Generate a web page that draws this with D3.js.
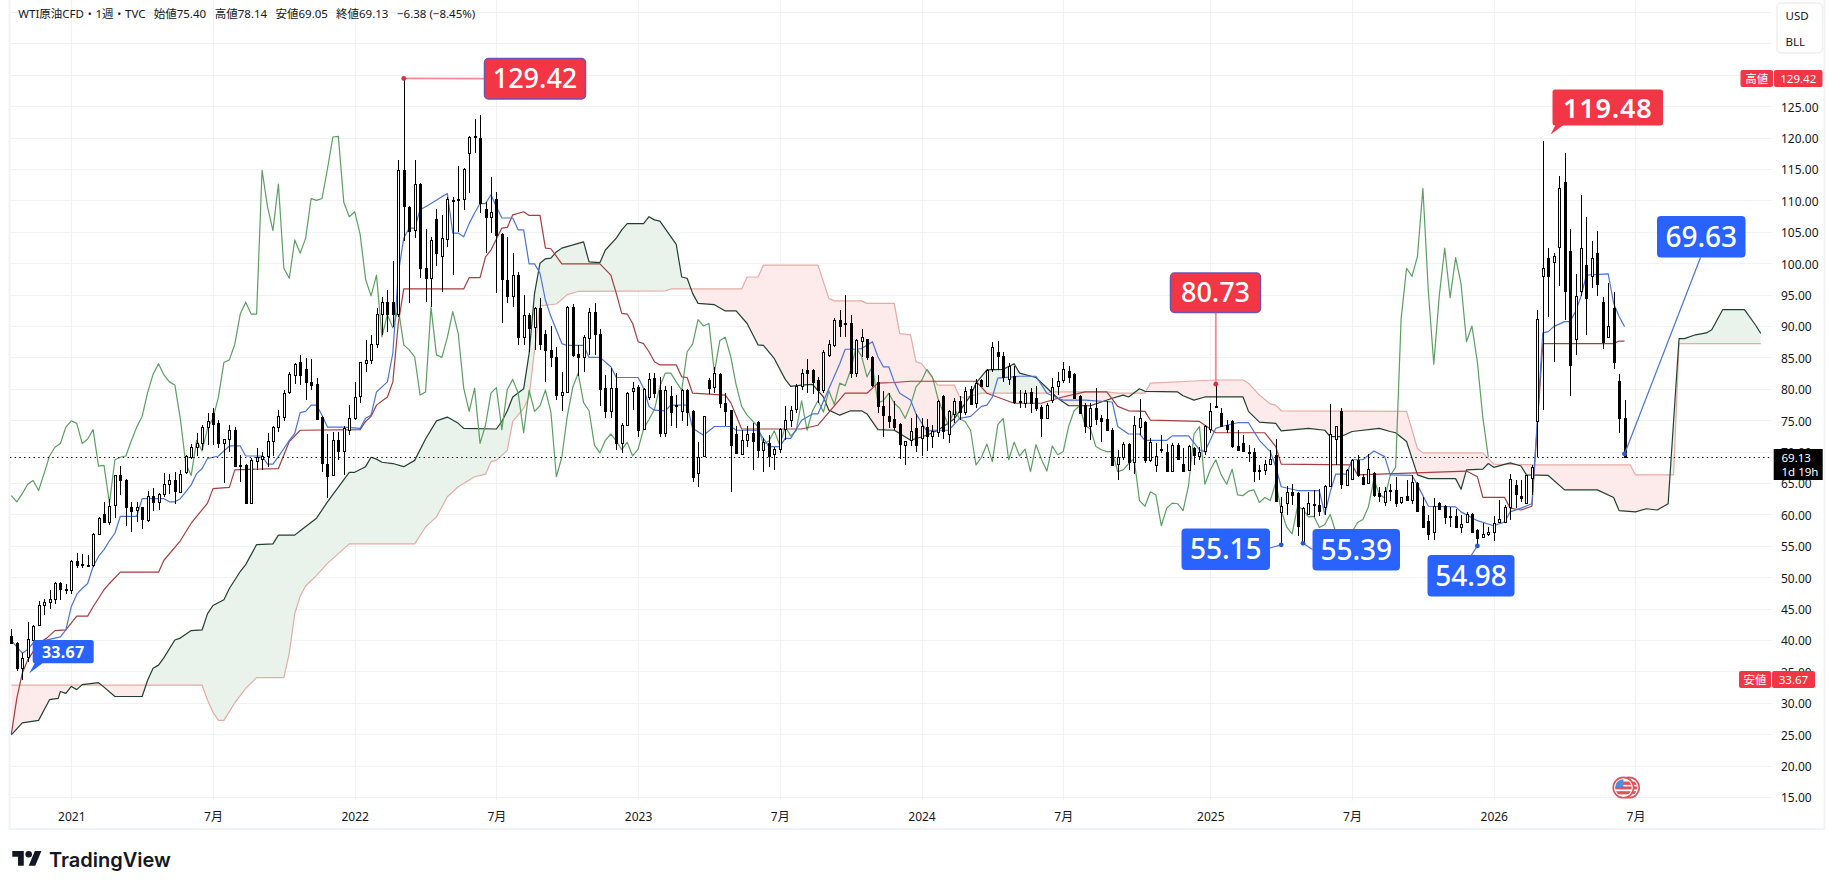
<!DOCTYPE html>
<html>
<head>
<meta charset="utf-8">
<title>WTI原油CFD</title>
<script src="https://cdn.jsdelivr.net/npm/d3@7/dist/d3.min.js"></script>
<style>
  html, body { margin: 0; padding: 0; background: #fff; }
  svg { display: block; }
  text { font-family: "Noto Sans", "Noto Sans CJK JP", sans-serif; }
</style>
</head>
<body>
<svg id="chart" width="1828" height="889"></svg>
<script>
// Weekly candles, oldest first. Index 0 is the first week in view.
const opens = [40.7,39.6,35.6,37.2,40.1,42.3,45.5,46,46.5,49.1,48.2,48,52.6,52.1,52,52,56.9,60,58.8,61.4,
66.2,65.5,61.2,60.6,61.1,59.2,63,62,63.2,64.7,65.5,63.7,66.8,69.1,70.6,71.3,73.9,76.2,74.5,71.3,
72,73.5,67.9,67.9,61.8,68.5,68.8,69.3,71.7,73.9,75.6,79.4,82.3,84.2,83.2,81.1,80.8,75.5,68.1,66.2,
71.8,70,73.4,75.3,78.8,84.1,84.6,87.1,91.9,93.8,93.8,91.9,114.8,109,105.2,112.6,99.2,97.6,107,101.2,
103.9,110.1,110.2,110.3,117.5,120.1,120,108.6,107.4,110.3,104.6,97.4,94.8,98.2,88.3,91.8,89.7,92.8,88.8,86.2,
85.1,79.1,79.5,93,85.5,85,88.2,92.3,88.8,80.1,76.5,80.1,71.3,74.2,79.8,80.3,73.5,78.6,81.7,79.8,
73,78.9,77.5,76.4,79.8,76.5,66.5,69.2,81.4,80.3,82.4,77.8,76.6,72.8,69.6,71.8,73,74.7,70.3,71.3,
69.6,70.4,73.6,75.1,76.7,80.4,83,83,81.4,79.8,85.4,87,91,90.5,90.5,82.5,87.6,87.9,85,81.1,
77.2,75.7,75.2,74.4,71,71.9,73.7,72.1,73.9,72.5,73.2,78.9,72.8,76.1,78.1,76.4,79.9,77.7,81.4,80.5,
83.1,85.8,85.2,81.5,82,78,77.7,79.5,78.5,77.1,75.3,78.2,80.5,81.3,82.8,82.4,78.9,77.4,74.1,76.9,
75.3,75.2,73.5,68,69.2,71.2,68.4,73.9,74.7,68.7,67.8,70.4,69.9,66.9,71.1,68,67,70.6,69.3,70,
73.7,77.2,76.2,74.3,74.8,70.9,71.3,70,69.9,67.1,67.1,68.1,69.5,60.3,61.9,63.6,63.4,55.4,60.1,61.7,
61.5,61.3,64.5,72,76.5,64.7,65.6,68.7,65.9,65,66.6,63.4,62,63.9,63.9,61.9,62.9,62.2,65,61.3,
58.9,57.2,61.8,61.3,59.8,59.7,57.9,58.8,60.1,57.5,56.5,56.9,57.3,58.7,58.8,61.2,64.7,62.9,61.8,65.7,
74.8,97.9,100.8,100.2,102.5,112.9,102,88,95.5,99.7,98,101.6,93.8,88.3,92.8,81.3,75.4];

const highs = [41.8,39.7,37.9,42.9,42.4,46.2,46.6,47.9,49.3,49.2,48.9,52.7,53.8,53.7,53.5,57.1,59.6,62,62.5,66.2,
67.7,65.6,62,62,61.2,63.7,64.2,63.4,66.6,66.5,66.8,67,69.5,71.2,72.9,74.3,76.1,76.9,75.1,72,
74.2,73.9,69.5,68,69,70.5,70,73,74,76.6,79.8,82.6,84.1,85.4,84.9,84.8,81.7,75.6,72.8,73.2,
73.1,74,77.4,81.1,84.3,87.8,88.6,92.9,94.6,95.7,100.4,116.4,129.42,109.1,116.4,112.7,105.4,104.2,108.7,107.7,
110.6,110.5,115.4,115.1,120.2,122.9,123.6,109.8,113.8,111.4,104.8,104.2,101.7,98.6,94.9,92,93.1,94.4,89.3,90,
86.7,82.7,93.2,93.5,87,88.6,92.8,93.6,89.6,82.2,83.3,82.5,74.5,79.5,81.1,80.6,80.1,82.5,82.5,81.9,
80.4,80.4,79,80,80,76.7,71.6,75.7,81.7,83.4,82.5,79.3,76.6,74,73.4,74,74.6,74.8,72.1,72.6,
70.8,73.7,77.2,77.3,80.7,83.1,84.7,83.1,81.9,86.2,87.8,91.2,92.5,94.9,91.7,88,89.6,88,85.2,82.2,
79.7,79.3,78,74.5,71.7,75.3,76,75.3,75.2,74.2,78.2,79,76.7,78.6,78.8,80.3,80.5,81.5,81.5,83.1,
87.4,87.6,85.9,84.1,83.7,79.8,79.8,80.1,80.5,77.4,77.7,81.7,82.7,84.3,83.7,82.5,79,77.7,77.7,80.1,
75.8,78,73.7,70.3,71.6,71.4,75.6,78.3,74.8,72.1,71.3,72.7,71.2,71.4,71.3,70.5,71,70.8,70.8,74.2,
77.7,80.73,76.9,75,75,73.5,72.6,71,70.5,67.9,68.7,70.3,72,62.8,64.5,64.8,63.5,61.1,63.6,63.9,
64,64.7,77.6,74,76.9,67.3,68.8,69.5,66.5,69.6,66.8,64.4,64.4,64.9,66,62.8,65.5,66.3,65.2,62.8,
59.9,62.6,62,61.5,61.2,60.8,59.9,60.4,60.2,57.6,58.7,58,59.7,62.3,61.5,66.4,65.5,65.4,66.3,67.9,
92.5,119.48,102.4,101.7,113.9,117.5,105.5,98.3,110.9,107.3,103.5,105.1,94.6,96.8,95.4,82.4,78.14];

const lows = [39.6,35,33.67,36.5,39.5,42.3,44,44.9,45.8,46.3,47.4,47.3,51.5,51.5,51.8,51.7,56.7,58.7,58.3,59.4,
63.1,58.2,57.2,58.8,57.7,58.8,60.6,60.7,62.8,63.3,61.6,63.6,66.5,68.9,69.3,70.3,71,71,70.5,65,
70,67.6,65.2,61.8,61.8,67,67.1,67.6,69.3,73.2,74.9,79.2,80.7,80.6,78.2,79.8,75,66.8,62.6,66.2,
68.6,66.3,72.6,75,77.8,82.7,84,86.5,88.6,89.1,89.9,91.5,103.5,93.6,104,97.6,93.9,93.1,99.5,95.4,
102.6,98.1,105,108.5,111.2,117.5,108,101.6,104.8,95.2,90.5,93.6,93.1,87,87,85.8,86.2,86.2,81.1,83.5,
78.2,76.4,79.3,85.1,82,82.7,85.4,85.4,77.3,75.3,75.3,70.3,69.7,74,76.6,72.4,73.4,78.2,78.5,72.4,
72.4,74,73.7,74.8,74,65.2,64.4,69.1,79.2,79.3,76.9,74,63.6,69.7,69.5,70.8,67,69.2,66.8,67.6,
67,69.7,71.9,73.9,76.1,79.8,79.3,79.2,77.7,79.3,85.1,86.7,88.2,88.2,81.7,81.9,85.1,84.6,80.3,76.1,
72.3,73.7,73.5,68.9,67.8,70.9,70,69.3,70.1,70.6,72.4,72,71.4,74.5,75,75.8,77.4,76.9,80.4,80.3,
82.6,83,81.1,80.6,77.6,76.9,76.9,76.1,76.4,72.4,75.2,77.7,79,81,80.9,78.4,76.1,72.9,71.8,74.2,
71.5,73.3,67.9,65.4,68.7,67,66.4,72.6,68.2,68.4,66.8,69.8,66.7,66.7,68.7,66.8,66.9,67.9,68.6,69.5,
72.9,77,73.9,73,70.5,70.1,70,68.4,65.2,65.5,66.3,67.9,62,55.15,59.9,61.5,56.5,55.39,59.9,59.6,
59.7,59.9,64.3,67.9,64.1,64.5,65.5,66,64.7,65,62.8,61.9,61.3,62.2,61.1,61.7,62.2,61.6,60.4,57.9,
56,55.9,60.7,58.5,58,57.8,57.1,58.7,57.1,54.98,56.3,56.5,55.8,58.6,58.6,59.1,61,61.9,61.6,63.1,
69.2,76.6,91.5,84.3,96.4,91,78.9,85.4,94.7,88.6,96,94.7,86.3,88.3,83.2,72.9,69.05];

const closes = [39.6,35.6,37.2,40.1,42.3,45.5,46,46.5,49.1,48.2,48.2,52.6,52,52.1,52,56.9,59.5,58.8,61.4,66.2,
65.4,61.2,60.6,61.1,59.2,63,62,63.3,64.8,65.4,63.8,66.5,69.3,70.7,71.3,73.9,74.9,74.5,71.3,72,
73.5,67.7,67.8,61.8,68.7,69.1,69.3,71.7,73.9,75.6,79.4,82.3,84,82.2,81.1,80.6,75.3,68.1,66.2,71.8,
70.1,73.7,75.3,78.7,84.2,84.6,87.1,91.9,93.8,91.9,91.9,114.8,109,105.2,112.6,99.2,97.6,103.7,101.6,104,
110.3,110,110.3,115,120.1,120.2,109.7,107.4,108.2,104.6,97.4,94.8,98.1,88.3,91.8,89.7,92.8,87,86.2,85.1,
79,79.5,93,85.4,85,88.2,92.3,88.8,80.1,76.4,80.1,71.3,74.2,79.3,80.2,73.5,79.9,81.5,79.3,73,
79.8,76.4,77.3,79.8,76.3,66,69.1,75.6,80.2,82.5,77.8,76.5,71,69.8,71.8,72.8,71.7,70.3,71.5,69.3,
70.4,73.6,75.1,76.7,80.4,82.5,82.5,81.1,79.8,85.9,87.1,91,90,90.4,82.6,87.7,88.2,85.1,80.6,77.2,
75.8,74.9,74,71.2,71.7,73.3,71,74,72.5,73.3,78.1,73.4,76.5,78.1,76.3,79.7,77.5,80.9,80.5,83,
86.6,85.2,81.9,83.6,77.8,78.1,79.3,77.7,76.9,75.3,77.4,80.3,81.3,83.1,81.9,78.5,76.2,74,76.9,75.2,
74.8,73.4,67.9,69.1,71.2,68.4,74.3,75.3,68.7,71.5,69.3,70.4,66.8,71.1,68.8,66.9,70.9,69.5,70,74,
76.5,77.3,74.2,73.6,70.8,70.3,70,70,66.8,67.1,68.1,68.9,62.2,61.3,63.6,63.1,58.2,61,61.8,61.7,
60.6,64.6,72.8,74,64.8,67.1,68.7,66.3,64.8,67.2,63.1,63,63.7,63.9,61.9,62.7,62.2,65.1,60.6,58,
56.9,61.3,60.8,59.6,59.7,57.9,58.4,60,57.2,56.3,56.9,57.2,58.7,59.2,61.2,65.6,63.2,62.6,66.2,67.5,
91.1,99.2,97.9,101.1,111.9,95.5,83.9,94.8,102.4,94.5,100.9,96.7,87.5,90,84.2,75.4,69.13];

// Ichimoku conversion line, as week and price at each vertex.
const tenkanWeeks = [0,1,2,3,4,9,10,11,12,13,14,15,16,17,18,19,20,23,24,28,29,30,31,32,33,34,35,36,38,39,40,42,43,46,47,48,49,50,51,52,53,54,55,56,57,58,61,64,65,66,67,68,69,70,71,72,73,74,75,76,77,79,80,81,82,83,84,85,86,87,88,89,90,92,93,94,95,96,97,98,99,100,101,102,105,106,108,110,111,115,116,117,118,120,121,124,125,127,129,132,133,137,139,141,142,143,145,147,148,150,152,153,155,156,158,159,160,161,162,163,165,166,168,169,172,174,176,178,179,180,181,185,188,190,192,193,197,202,203,205,207,208,212,213,216,218,219,221,222,225,227,229,231,232,233,236,240,241,242,243,245,246,248,250,252,253,257,258,260,265,266,269,272,274,275,277,279,280,281,282,283,285,286,287,288,289,293,294,295,296];
const tenkanPrices = [39.9,38.9,37.9,38.5,39.5,40.5,41.6,45.3,47.3,48.2,49,51.7,53.3,54.4,55.8,57,59.7,59.7,62.5,62.5,62,62,62.5,63.6,64.7,66.5,67.3,68.9,69.3,70.1,70.9,70.9,69.3,69.3,68,68,69.2,70.5,71.8,72.9,76.2,76.4,77.4,77.4,75.8,73.9,73.9,73.7,75.3,75.8,79.5,80.3,81.1,85.7,98.4,104,105.6,105.6,108.5,109,109.5,110.6,111.1,104.8,104.8,104.2,106.3,108,109.5,109.5,110.9,109,107.2,107.2,105.3,105.3,99.9,99.9,98.4,94.1,91.5,89.4,87.2,86.9,86.9,85,85,83.5,81.8,81.8,80.1,77.2,76.6,76.5,77.4,77.4,73.7,72.6,74,74,73.4,73.4,70.8,70.8,72.1,72.1,75,76,76,80,84,86.3,86.3,86.4,87.5,85.1,83.5,83.5,81.1,79.3,78.2,76,73.2,73.4,73.4,75.3,75.6,77.2,77.4,78.7,81.7,82,82,79.3,78.5,78.2,78.2,77.9,74,72.8,72.8,71.8,71.8,72.5,72.5,70.3,70,73.7,74,74.6,74.6,71.8,70,67.6,64.4,63.8,63.8,60,63.6,66.4,66.4,68.7,68.7,70.1,69.2,66.3,66.2,64.7,61.3,61.2,60.4,59,58.2,58.8,60.4,61,61.7,75,88.9,89.1,89.9,90.7,90.7,92.3,94.7,98.1,98.3,93.6,91.5,89.9];

// Ichimoku base line vertices.
const kijunWeeks = [0,1,2,3,5,6.5,8,10,12,14,15,17,18,20,27,28,31,33,36,37,40,41,49,51,53,64,65,66,67,69,70,71,72,83,84,86,87,88,90,91,92,94,95,97,98,99,101,108,110,111,112,113,114,115,116,117,118,119,122,123,124,125,131,132,134,145,148,153,157,159,162,165,177,179,184,189,192,197,201,203,205,208,209,218,221,230,232,233,246,247,267,269,270,274,275,277,279,280,281,294,295,296];
const kijunPrices = [25,30.7,34.7,36.8,39.5,40.3,41.5,41.6,43.8,43.8,45.3,48,49,50.8,50.8,52.7,55.8,58.6,61.8,64.1,64.3,67.1,67.3,71.6,73.4,73.5,74.8,75.6,77.4,78.7,81.1,90.4,95.9,95.9,97.7,97.7,101,102.1,105.6,105.7,107.7,108.2,107.6,107.6,102.4,102.3,99.9,99.9,98.1,95.2,92,91.9,90.4,87.5,87.2,85.9,84.3,83.8,83.8,81.9,81.8,79.3,79,77.8,73.6,73.6,74.2,79.3,79.3,80.9,81,81.2,81.2,79.3,77.7,77.7,78.5,79.5,79.5,77.2,76.5,76.4,75,74.8,73,73,70.8,68,67.9,66.3,66.9,66,62.7,62.7,61,60.7,61.3,74.2,87.2,87.2,87.6,87.6];

// Leading span A vertices; the last ones run ahead of the final candle.
const spanAWeeks = [0,2,5,7,8.6,9,10,11,12,13,16,17,19,24,25,26,27,28,30,31,33,35,36,37,39,40,42,43,45,48,49,52,53,56,58,62,63,65,66,67,68,70,72,74,76,78,80,82,83,89,90,91,92,94,95,96,97,98,99,100,101,105,106,108,109,111,112,113,116,117,118,119,122,123,124,125,126,129,131,133,135,137,138,140,142,143,145,147,149,150,152,154,156,157,159,162,163,165,168,170,173,176,177,179,182,184,185,188,192,194,198,200,202,204,205,207,208,214,215,217,219,226,227,229,232,233,238,241,242,244,246,251,253,254,256,258,260,265,266,267,270,271,272,275,277,278,282,285,291,294,295,298,300,302,304,306,307,309,311,312,314,318,320,321];
const spanAPrices = [24.9,26.8,27.2,30.5,30.7,31.8,31.5,32.6,32.1,32.9,33.2,32.5,31,31,33.6,35.5,36,37.2,40,40.3,41.5,41.6,44.2,45.5,46.4,48.2,50.9,52,55.2,55.3,56.7,56.7,57.4,59.4,62,66.7,66.7,67.6,69.1,68.8,68.3,68.1,67.6,68.6,72,74.9,75.5,74.5,73.7,73.6,74.8,76.5,78.7,80,85.6,95.2,100,100.7,100.8,101.8,102.4,103.4,100.2,100.1,102.1,104,105.3,106.3,106.3,107.4,106.9,106.7,103,97.8,97.6,95.2,93.6,93.4,92.4,92.4,90.4,87,86.9,84.8,81.5,80.4,80.6,80.7,78.7,76.6,75.8,76.5,76.5,76,73.5,73.4,72.9,71.8,72.6,73.4,75.2,78.9,80.9,83,83.1,84,82.5,81.8,78.5,77.3,77.3,77.9,78.5,79,78.7,80,79.6,79.5,78.9,78.2,78.7,78.7,76.4,74.7,74.5,73.3,73.7,73.4,72.4,72.4,73.2,73.7,73.2,73,71.6,66.3,65.7,65.7,64,67.1,67.2,68.1,67.5,68.2,67.7,66.3,66.2,63.9,63.9,62.7,60.6,60.4,60.9,60.7,61.7,88,88,88.6,88.9,89.4,92.6,92.6,90.2,88.8];

// Leading span B vertices.
const spanBWeeks = [0,35,36,37,38,39,40,41,43,45,50,51,52,53,54,56,58,62,74,76,78,80,82,85,87,88,89,91,92,94,95,96,97,100,102,104,120,121,134,135,137,138,148,150,151,156,157,162,163,165,166,167,170,173,174,175,178,190,191,201,203,208,209,216,221,226,227,229,231,232,233,256,258,259,270,272,280,297,298,305,306,321];
const spanBPrices = [32.8,32.8,30.4,28.5,27.2,27.2,28.6,30,32.3,34,34,37.9,44.2,47,48.6,50.3,52.2,55.3,55.3,58,59.6,62.8,64.4,66,66.4,68.4,68.6,70.2,74.8,76.9,78.7,86.2,93.2,93.5,95,95.5,95.6,95.9,95.9,97.8,97.8,99.7,99.7,94.4,94,94,93.6,93.6,88.8,88.6,84.3,84,80.6,80.6,78.7,78.6,79.3,79.3,79.5,79.5,79.3,79.3,80.9,81.2,81.4,81.4,80.9,79,77.6,77.4,76.5,76.4,70.5,69.8,69.8,68,67.9,67.9,66.3,66.3,87.2,87.2];

// The lagging span is the close plotted this many weeks back.
const laggingShift = 25;

// Axis content.
const priceTicks = [125,120,115,110,105,100,95,90,85,80,75,70,65,60,55,50,45,40,35,30,25,20,15];
const gridPrices = [140,135,130].concat(priceTicks);
const timeTickWeeks = [11,37,63,89,115,141,167,193,220,246,272,298];
const timeTickLabels = ["2021","7月","2022","7月","2023","7月","2024","7月","2025","7月","2026","7月"];

const lastClose = closes[closes.length - 1];
const lastWeek = closes.length - 1;
const alternatePrice = 69.63;

const COLORS = {
  grid: "#f0f2f5", frame: "#f0f3fa", ink: "#131722",
  tenkan: "#4a74d8", kijun: "#a53d3f", spanA: "#20402f", spanB: "#e7aaa4",
  lagging: "#5c9f62", cloudUp: "#e9f3eb", cloudDown: "#fdeaea",
  red: "#f23645", blue: "#2962ff", border: "#6a55b8", leader: "#f28b94"
};

const PLOT = { left: 10, right: 1772.5, top: 0, bottom: 797, axisBottom: 800 };

const svg = d3.select("#chart");

const x = d3.scaleLinear().domain([11, 298]).range([71.3, 1635.45]);
const y = d3.scaleLinear().domain([15, 125]).range([797, 106.2]);

svg.append("clipPath").attr("id", "plot-clip")
  .append("rect").attr("x", PLOT.left).attr("y", 0)
  .attr("width", PLOT.right - PLOT.left).attr("height", PLOT.axisBottom);

// Panel frame around the plot and both axes.
svg.append("rect").attr("x", 9.5).attr("y", -3).attr("width", 1815).attr("height", 832)
  .attr("fill", "#fff").attr("stroke", COLORS.frame).attr("stroke-width", 2);

// Grid lines.
const gridLayer = svg.append("g");
gridLayer.selectAll("line.h").data(gridPrices).join("line")
  .attr("x1", PLOT.left).attr("x2", PLOT.right)
  .attr("y1", d => Math.round(y(d)) + 0.5).attr("y2", d => Math.round(y(d)) + 0.5)
  .attr("stroke", COLORS.grid);
gridLayer.selectAll("line.v").data(timeTickWeeks).join("line")
  .attr("x1", d => Math.round(x(d)) + 0.5).attr("x2", d => Math.round(x(d)) + 0.5)
  .attr("y1", PLOT.top).attr("y2", PLOT.axisBottom)
  .attr("stroke", COLORS.grid);

const plot = svg.append("g").attr("clip-path", "url(#plot-clip)");

// Two-tone cloud: the A/B band is painted twice, each clipped to one side of span B.
const points = (weeks, prices) => weeks.map((w, i) => [x(w), y(prices[i])]);
const spanAPoints = points(spanAWeeks, spanAPrices);
const spanBPoints = points(spanBWeeks, spanBPrices);
const polyline = d3.line();
const bandPath = polyline(spanAPoints.concat(spanBPoints.slice().reverse())) + "Z";
const bEdgeStart = spanBPoints[0], bEdgeEnd = spanBPoints[spanBPoints.length - 1];

svg.append("clipPath").attr("id", "above-b").append("path")
  .attr("d", polyline(spanBPoints.concat([[bEdgeEnd[0], 0], [bEdgeStart[0], 0]])) + "Z");
svg.append("clipPath").attr("id", "below-b").append("path")
  .attr("d", polyline(spanBPoints.concat([[bEdgeEnd[0], 889], [bEdgeStart[0], 889]])) + "Z");

plot.append("g").attr("clip-path", "url(#above-b)").append("path")
  .attr("d", bandPath).attr("fill", COLORS.cloudUp);
plot.append("g").attr("clip-path", "url(#below-b)").append("path")
  .attr("d", bandPath).attr("fill", COLORS.cloudDown);

// Indicator lines sit under the candles.
const drawLine = (pts, color) => plot.append("path")
  .attr("d", polyline(pts)).attr("fill", "none").attr("stroke", color)
  .attr("stroke-width", 1.2).attr("stroke-linejoin", "round");

drawLine(spanBPoints, COLORS.spanB);
drawLine(spanAPoints, COLORS.spanA);
drawLine(closes.slice(laggingShift).map((c, i) => [x(i), y(c)]), COLORS.lagging);
drawLine(points(kijunWeeks, kijunPrices), COLORS.kijun);
drawLine(points(tenkanWeeks, tenkanPrices), COLORS.tenkan);

// Candles: hollow when the week closed up, solid when it closed down.
const candleRows = closes.map((c, i) => ({ i, o: opens[i], h: highs[i], l: lows[i], c }));
const candles = plot.append("g").selectAll("g").data(candleRows).join("g");
candles.append("line")
  .attr("x1", d => Math.round(x(d.i)) + 0.5).attr("x2", d => Math.round(x(d.i)) + 0.5)
  .attr("y1", d => y(d.h)).attr("y2", d => y(d.l))
  .attr("stroke", "#000").attr("stroke-width", 1)
  .attr("shape-rendering", "crispEdges");
candles.append("rect")
  .attr("x", d => Math.round(x(d.i)) - 0.5)
  .attr("width", 2)
  .attr("y", d => Math.round(Math.min(y(d.o), y(d.c))) + 0.5)
  .attr("height", d => Math.max(Math.round(Math.abs(y(d.o) - y(d.c))), 1))
  .attr("fill", d => d.c >= d.o ? "#fff" : "#000")
  .attr("stroke", "#000").attr("stroke-width", 1)
  .attr("shape-rendering", "crispEdges");

// Dotted guide at the last close.
plot.append("line")
  .attr("x1", PLOT.left).attr("x2", PLOT.right)
  .attr("y1", Math.round(y(lastClose)) + 0.5).attr("y2", Math.round(y(lastClose)) + 0.5)
  .attr("stroke", "#000").attr("stroke-width", 1.2).attr("stroke-dasharray", "1.4 3.3");

// Price axis.
const priceAxis = d3.axisRight(y).tickValues(priceTicks).tickSize(0).tickPadding(0)
  .tickFormat(d3.format(".2f"));
const priceAxisG = svg.append("g").attr("transform", "translate(1781,1)").call(priceAxis);
priceAxisG.select(".domain").remove();
priceAxisG.selectAll("text").attr("font-size", 12).attr("fill", COLORS.ink)
  .style("font-family", '"Noto Sans", sans-serif');

// Time axis.
const timeAxis = d3.axisBottom(x).tickValues(timeTickWeeks).tickSize(0).tickPadding(0)
  .tickFormat(d => timeTickLabels[timeTickWeeks.indexOf(d)]);
const timeAxisG = svg.append("g").attr("transform", "translate(0,812)").call(timeAxis);
timeAxisG.select(".domain").remove();
timeAxisG.selectAll("text").attr("font-size", 12).attr("fill", COLORS.ink)
  .style("font-family", '"Noto Sans", "Noto Sans CJK JP", sans-serif');

// Price callouts pinned to the candles they describe.
const fmt = d3.format(".2f");
const callouts = [
  { value: highs[72], week: 72, box: [484.5, 58.5, 585.5, 99], fill: COLORS.red, border: COLORS.border, leader: COLORS.leader, from: [484.5, 78.7], size: 27 },
  { value: highs[221], week: 221, box: [1170.5, 273, 1260.5, 312.5], fill: COLORS.red, border: COLORS.border, leader: COLORS.leader, from: [null, 312.5], size: 27 },
  { value: lows[233], week: 233, box: [1181.5, 528.5, 1270, 570], fill: COLORS.blue, leader: "#4a74d8", from: [1270, 548], size: 28 },
  { value: lows[237], week: 237, box: [1312.5, 529, 1400, 570.5], fill: COLORS.blue, leader: "#4a74d8", from: [1312.5, 549.5], size: 28 },
  { value: lows[269], week: 269, box: [1427.5, 555, 1514.5, 596.5], fill: COLORS.blue, leader: "#4a74d8", from: [1471.5, 555], size: 28 },
  { value: alternatePrice, week: lastWeek, box: [1657, 216, 1745.5, 257.5], fill: COLORS.blue, leader: "#4a74d8", from: [1700.5, 257.5], size: 28 }
];

const calloutLayer = svg.append("g");
callouts.forEach(c => {
  const ax = x(c.week), ay = y(c.value);
  const fromX = c.from[0] === null ? ax : c.from[0];
  calloutLayer.append("line").attr("x1", fromX).attr("y1", c.from[1]).attr("x2", ax).attr("y2", ay)
    .attr("stroke", c.leader).attr("stroke-width", c.border ? 1.8 : 1.2);
  calloutLayer.append("circle").attr("cx", ax).attr("cy", ay).attr("r", 2.4).attr("fill", c.fill === COLORS.red ? "#d9303f" : "#2a57d8");
  calloutLayer.append("rect")
    .attr("x", c.box[0]).attr("y", c.box[1])
    .attr("width", c.box[2] - c.box[0]).attr("height", c.box[3] - c.box[1])
    .attr("rx", 4).attr("fill", c.fill)
    .attr("stroke", c.border || "none").attr("stroke-width", c.border ? 1.5 : 0);
  calloutLayer.append("text")
    .attr("x", (c.box[0] + c.box[2]) / 2).attr("y", (c.box[1] + c.box[3]) / 2 + c.size * 0.36)
    .attr("text-anchor", "middle").attr("fill", "#fff").attr("font-size", c.size).attr("font-weight", 500)
    .text(fmt(c.value));
});

// Tailed balloons for the year's spike and the range low.
calloutLayer.append("path").attr("d", "M1555.7 124.5 L1564 124.5 L1550.7 134.5 Z").attr("fill", COLORS.red);
calloutLayer.append("rect").attr("x", 1552.5).attr("y", 89.5).attr("width", 110.5).attr("height", 36)
  .attr("rx", 2.5).attr("fill", COLORS.red);
calloutLayer.append("text").attr("x", 1607.7).attr("y", 117.5).attr("text-anchor", "middle")
  .attr("fill", "#fff").attr("font-size", 27).attr("font-weight", 600).attr("letter-spacing", 0.8)
  .text(fmt(highs[281]));

calloutLayer.append("path").attr("d", "M35 662.5 L43.5 662.5 L29.3 673.3 Z").attr("fill", COLORS.blue);
calloutLayer.append("rect").attr("x", 32.7).attr("y", 640).attr("width", 61).attr("height", 23.3)
  .attr("rx", 2.5).attr("fill", COLORS.blue);
calloutLayer.append("text").attr("x", 63.2).attr("y", 657.5).attr("text-anchor", "middle")
  .attr("fill", "#fff").attr("font-size", 16).attr("font-weight", 700).attr("letter-spacing", 0.3)
  .text(fmt(lows[2]));

// Legend line.
const legendBits = [
  ["WTI原油CFD・1週・TVC", 18.3],
  ["始値" + fmt(opens[lastWeek]), 153.7],
  ["高値" + fmt(highs[lastWeek]), 214.8],
  ["安値" + fmt(lows[lastWeek]), 275.5],
  ["終値" + fmt(closes[lastWeek]), 336],
  ["−6.38 (−8.45%)", 397]
];
svg.append("g").selectAll("text").data(legendBits).join("text")
  .attr("x", d => d[1]).attr("y", 17.5).attr("font-size", 11.5).attr("fill", COLORS.ink)
  .text(d => d[0]);

// Currency and unit chips.
const unitBox = svg.append("g");
unitBox.append("rect").attr("x", 1777).attr("y", 3).attr("width", 45.5).attr("height", 50)
  .attr("rx", 4).attr("fill", "#fff").attr("stroke", "#eef0f3").attr("stroke-width", 1.5);
[["USD", 19.5], ["BLL", 45.5]].forEach(([t, ty]) => unitBox.append("text")
  .attr("x", 1785.5).attr("y", ty).attr("font-size", 11.5).attr("fill", COLORS.ink).text(t));

// Range high and low tags on the price scale.
const rangeTag = (label, value, lx, vx, vw, cy) => {
  const g = svg.append("g");
  g.append("rect").attr("x", lx).attr("y", cy - 8.5).attr("width", vx - lx - 1).attr("height", 17)
    .attr("rx", 2).attr("fill", COLORS.red);
  g.append("rect").attr("x", vx).attr("y", cy - 8.5).attr("width", vw).attr("height", 17)
    .attr("rx", 2).attr("fill", COLORS.red);
  g.append("text").attr("x", (lx + vx - 1) / 2).attr("y", cy + 4.2).attr("text-anchor", "middle")
    .attr("fill", "#fff").attr("font-size", 11.5).text(label);
  g.append("text").attr("x", vx + vw / 2).attr("y", cy + 4.2).attr("text-anchor", "middle")
    .attr("fill", "#fff").attr("font-size", 11.5).text(fmt(value));
};
rangeTag("高値", highs[72], 1740.5, 1774, 48.5, y(highs[72]));
rangeTag("安値", lows[2], 1739, 1772, 43, y(lows[2]) - 0.3);

// Last price tag with the countdown to the bar close.
const lastTag = svg.append("g");
lastTag.append("rect").attr("x", 1773.7).attr("y", 449).attr("width", 49).attr("height", 31).attr("fill", "#000");
lastTag.append("text").attr("x", 1781.5).attr("y", 462).attr("font-size", 11.5).attr("fill", "#fff").text(fmt(lastClose));
lastTag.append("text").attr("x", 1781.5).attr("y", 476).attr("font-size", 11.5).attr("fill", "#fff").text("1d 19h");

// Economic event badges near the bottom of the plot.
const badge = svg.append("g");
[1629, 1623.4].forEach((cx, idx) => {
  badge.append("circle").attr("cx", cx).attr("cy", 787.6).attr("r", 10.2)
    .attr("fill", "#fff").attr("stroke", "#e0525a").attr("stroke-width", 1.6);
  const stripes = [[781.5, 3.4], [786.4, 3], [791.2, 3.2]];
  const clipId = "badge-" + idx;
  svg.append("clipPath").attr("id", clipId).append("circle").attr("cx", cx).attr("cy", 787.6).attr("r", 8.3);
  const f = badge.append("g").attr("clip-path", `url(#${clipId})`);
  stripes.forEach(([sy, sh]) => f.append("rect").attr("x", cx - 10).attr("y", sy).attr("width", 20).attr("height", sh).attr("fill", "#e0525a"));
  f.append("rect").attr("x", cx - 10).attr("y", 778).attr("width", 10).attr("height", 9).attr("fill", "#4a90e0");
});

// Wordmark below the panel.
const logo = svg.append("g").attr("transform", "translate(12.3,847.7) scale(0.82)").attr("fill", "#131722");
logo.append("path").attr("d", "M14 22H7V11H0V4h14v18zM28 22h-8l7.5-18h8L28 22z");
logo.append("circle").attr("cx", 20).attr("cy", 8).attr("r", 4);
svg.append("text").attr("x", 49).attr("y", 866.5).attr("font-size", 20).attr("font-weight", 600)
  .attr("fill", "#131722").style("font-family", "Inter, sans-serif").text("TradingView");
</script>
</body>
</html>
